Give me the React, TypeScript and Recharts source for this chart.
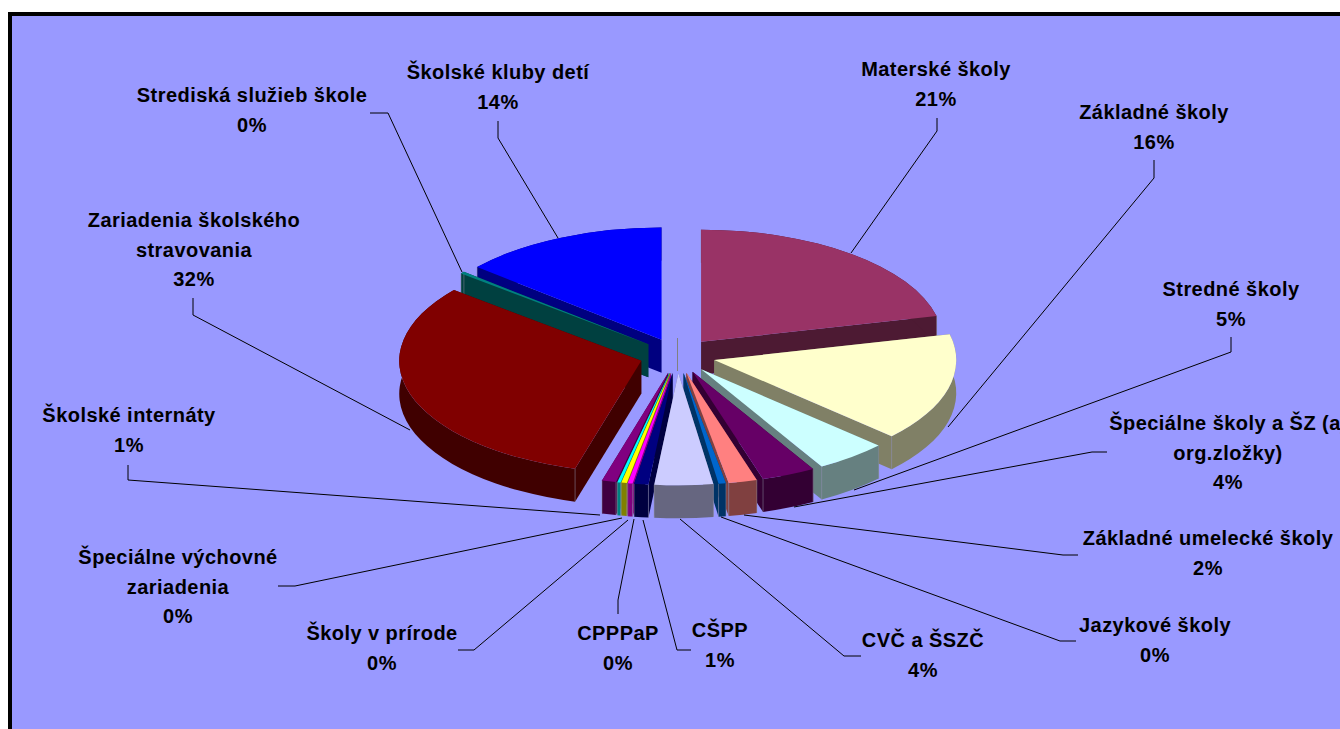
import React from 'react';
import { PieChart, Pie } from 'recharts';

const categories = [
  'Materské školy',
  'Základné školy',
  'Stredné školy',
  'Špeciálne školy a ŠZ (aj\norg.zložky)',
  'Základné umelecké školy',
  'Jazykové školy',
  'CVČ a ŠSZČ',
  'CŠPP',
  'CPPPaP',
  'Školy v prírode',
  'Špeciálne výchovné\nzariadenia',
  'Školské internáty',
  'Zariadenia školského\nstravovania',
  'Strediská služieb škole',
  'Školské kluby detí',
  '',
];
const shares = [21.3, 15.6, 4.8, 3.6, 1.9, 0.49, 3.9, 0.95, 0.33, 0.37, 0.22, 0.95, 31.5, 0.3, 13.79, 0];
const percentLabels = ['21%', '16%', '5%', '4%', '2%', '0%', '4%', '1%', '0%', '0%', '0%', '1%', '32%', '0%', '14%', ''];
const colors = [
  '#993366', '#FFFFCC', '#CCFFFF', '#660066', '#FF8080', '#0066CC', '#CCCCFF', '#000080',
  '#FF00FF', '#FFFF00', '#00FFFF', '#800080', '#800000', '#008080', '#0000FF', '#808080',
];

// back to front, the two sides of the pie meet at the slice facing the viewer
const paintOrder = [15, 0, 14, 13, 1, 12, 2, 3, 11, 4, 10, 9, 8, 5, 7, 6];

// label centre x, y of the first line, then the leader line from the label to the slice
const labelLayout: { x: number; y: number; leader: number[][] }[] = [
  { x: 936, y: 69, leader: [[937, 118], [937, 131], [851, 253]] },
  { x: 1154, y: 112, leader: [[1154, 160], [1154, 178], [948, 427]] },
  { x: 1231, y: 289, leader: [[1231, 337], [1231, 352], [854, 490]] },
  { x: 1228, y: 423, leader: [[1107, 452], [1092, 452], [794, 507]] },
  { x: 1208, y: 538, leader: [[1078, 555], [1063, 555], [744, 515]] },
  { x: 1155, y: 625, leader: [[1076, 641], [1060, 641], [721, 517]] },
  { x: 923, y: 640, leader: [[861, 656], [844, 656], [680, 519]] },
  { x: 720, y: 630, leader: [[691, 650], [677, 650], [643, 520]] },
  { x: 618, y: 633, leader: [[618, 614], [618, 600], [634, 519]] },
  { x: 382, y: 633, leader: [[458, 650], [474, 650], [628, 520]] },
  { x: 178, y: 557, leader: [[278, 586], [295, 586], [622, 518]] },
  { x: 129, y: 415, leader: [[128, 465], [128, 480], [600, 515]] },
  { x: 194, y: 220, leader: [[193, 298], [193, 315], [410, 430]] },
  { x: 252, y: 95, leader: [[370, 113], [388, 113], [462, 272]] },
  { x: 498, y: 72, leader: [[498, 121], [498, 138], [558, 238]] },
];

const tableData = categories.map((name, i) => ({ name, value: shares[i], fill: colors[i] }));

const CENTER_X = 677.5;
const CENTER_Y = 355.6;
const RADIUS = 242;
const TILT = 0.463;
const EXPLODE = 38;
const DEPTH = 33;

const halfShade = (hex: string) => {
  const n = parseInt(hex.slice(1), 16);
  const part = (v: number) => Math.round(v / 2).toString(16).padStart(2, '0');
  return '#' + part((n >> 16) & 255) + part((n >> 8) & 255) + part(n & 255);
};

const rad = (deg: number) => (deg * Math.PI) / 180;

// draws one slice of the tilted pie from the angles the Pie has computed
const sliceShape = (target: number) => (props: any) => {
  if (props.name !== categories[target]) return <g />;
  const { cx, cy, outerRadius, startAngle, endAngle, midAngle, fill } = props;
  const ry = outerRadius * TILT;
  const ax = cx + EXPLODE * Math.cos(rad(midAngle));
  const ay = cy - EXPLODE * TILT * Math.sin(rad(midAngle));
  const side = halfShade(fill);

  if (startAngle === endAngle) {
    return <line x1={ax} y1={ay} x2={ax} y2={ay + DEPTH} stroke={fill} strokeWidth={1} />;
  }

  const sx = ax + outerRadius * Math.cos(rad(startAngle));
  const sy = ay - ry * Math.sin(rad(startAngle));
  const ex = ax + outerRadius * Math.cos(rad(endAngle));
  const ey = ay - ry * Math.sin(rad(endAngle));
  const large = Math.abs(startAngle - endAngle) > 180 ? 1 : 0;
  const edge = { stroke: '#8c8c9c', strokeWidth: 0.5 };

  return (
    <g>
      <path d={`M${ax},${ay}L${sx},${sy}L${sx},${sy + DEPTH}L${ax},${ay + DEPTH}Z`} fill={side} />
      <path d={`M${ax},${ay}L${ex},${ey}L${ex},${ey + DEPTH}L${ax},${ay + DEPTH}Z`} fill={side} />
      <path
        d={`M${sx},${sy}A${outerRadius},${ry} 0 ${large} 1 ${ex},${ey}L${ex},${ey + DEPTH}A${outerRadius},${ry} 0 ${large} 0 ${sx},${sy + DEPTH}Z`}
        fill={side}
      />
      <line x1={sx} y1={sy} x2={sx} y2={sy + DEPTH} {...edge} />
      <line x1={ex} y1={ey} x2={ex} y2={ey + DEPTH} {...edge} />
      <path d={`M${ax},${ay}L${sx},${sy}A${outerRadius},${ry} 0 ${large} 1 ${ex},${ey}Z`} fill={fill} />
    </g>
  );
};

const renderLabel = (props: any) => {
  const layout = labelLayout[props.index];
  if (!layout) return <g key={props.index} />;
  const lines = [...categories[props.index].split('\n'), percentLabels[props.index]];
  return (
    <g key={props.index}>
      <polyline
        points={layout.leader.map((p) => p.join(',')).join(' ')}
        fill="none"
        stroke="#000000"
        strokeWidth={1}
      />
      {lines.map((line, i) => (
        <text
          key={i}
          x={layout.x}
          y={layout.y + 7 + i * 29.5}
          textAnchor="middle"
          fontFamily="'Liberation Sans', Arial, sans-serif"
          fontWeight="bold"
          fontSize={20}
          letterSpacing={0.45}
          fill="#000000"
        >
          {line}
        </text>
      ))}
    </g>
  );
};

const App: React.FC = () => {
  return (
    <div style={{ position: 'fixed', left: 0, top: 0, width: 1340, height: 729, overflow: 'hidden', background: '#ffffff' }}>
      <div
        style={{
          position: 'absolute',
          left: 8,
          top: 12,
          width: 1400,
          height: 800,
          border: '4px solid #000000',
          background: '#9999FF',
        }}
      />
      <div style={{ position: 'absolute', left: 0, top: 0 }}>
        <PieChart width={1340} height={729} margin={{ top: 0, right: 0, bottom: 0, left: 0 }}>
          {paintOrder.map((target) => (
            <Pie
              key={target}
              data={tableData}
              dataKey="value"
              nameKey="name"
              cx={CENTER_X}
              cy={CENTER_Y}
              outerRadius={RADIUS}
              startAngle={90}
              endAngle={-270}
              stroke="none"
              shape={sliceShape(target)}
              isAnimationActive={false}
            />
          ))}
          <Pie
            data={tableData}
            dataKey="value"
            nameKey="name"
            cx={CENTER_X}
            cy={CENTER_Y}
            outerRadius={RADIUS}
            startAngle={90}
            endAngle={-270}
            shape={() => <g />}
            label={renderLabel}
            labelLine={false}
            isAnimationActive={false}
          />
        </PieChart>
      </div>
    </div>
  );
};

export default App;
